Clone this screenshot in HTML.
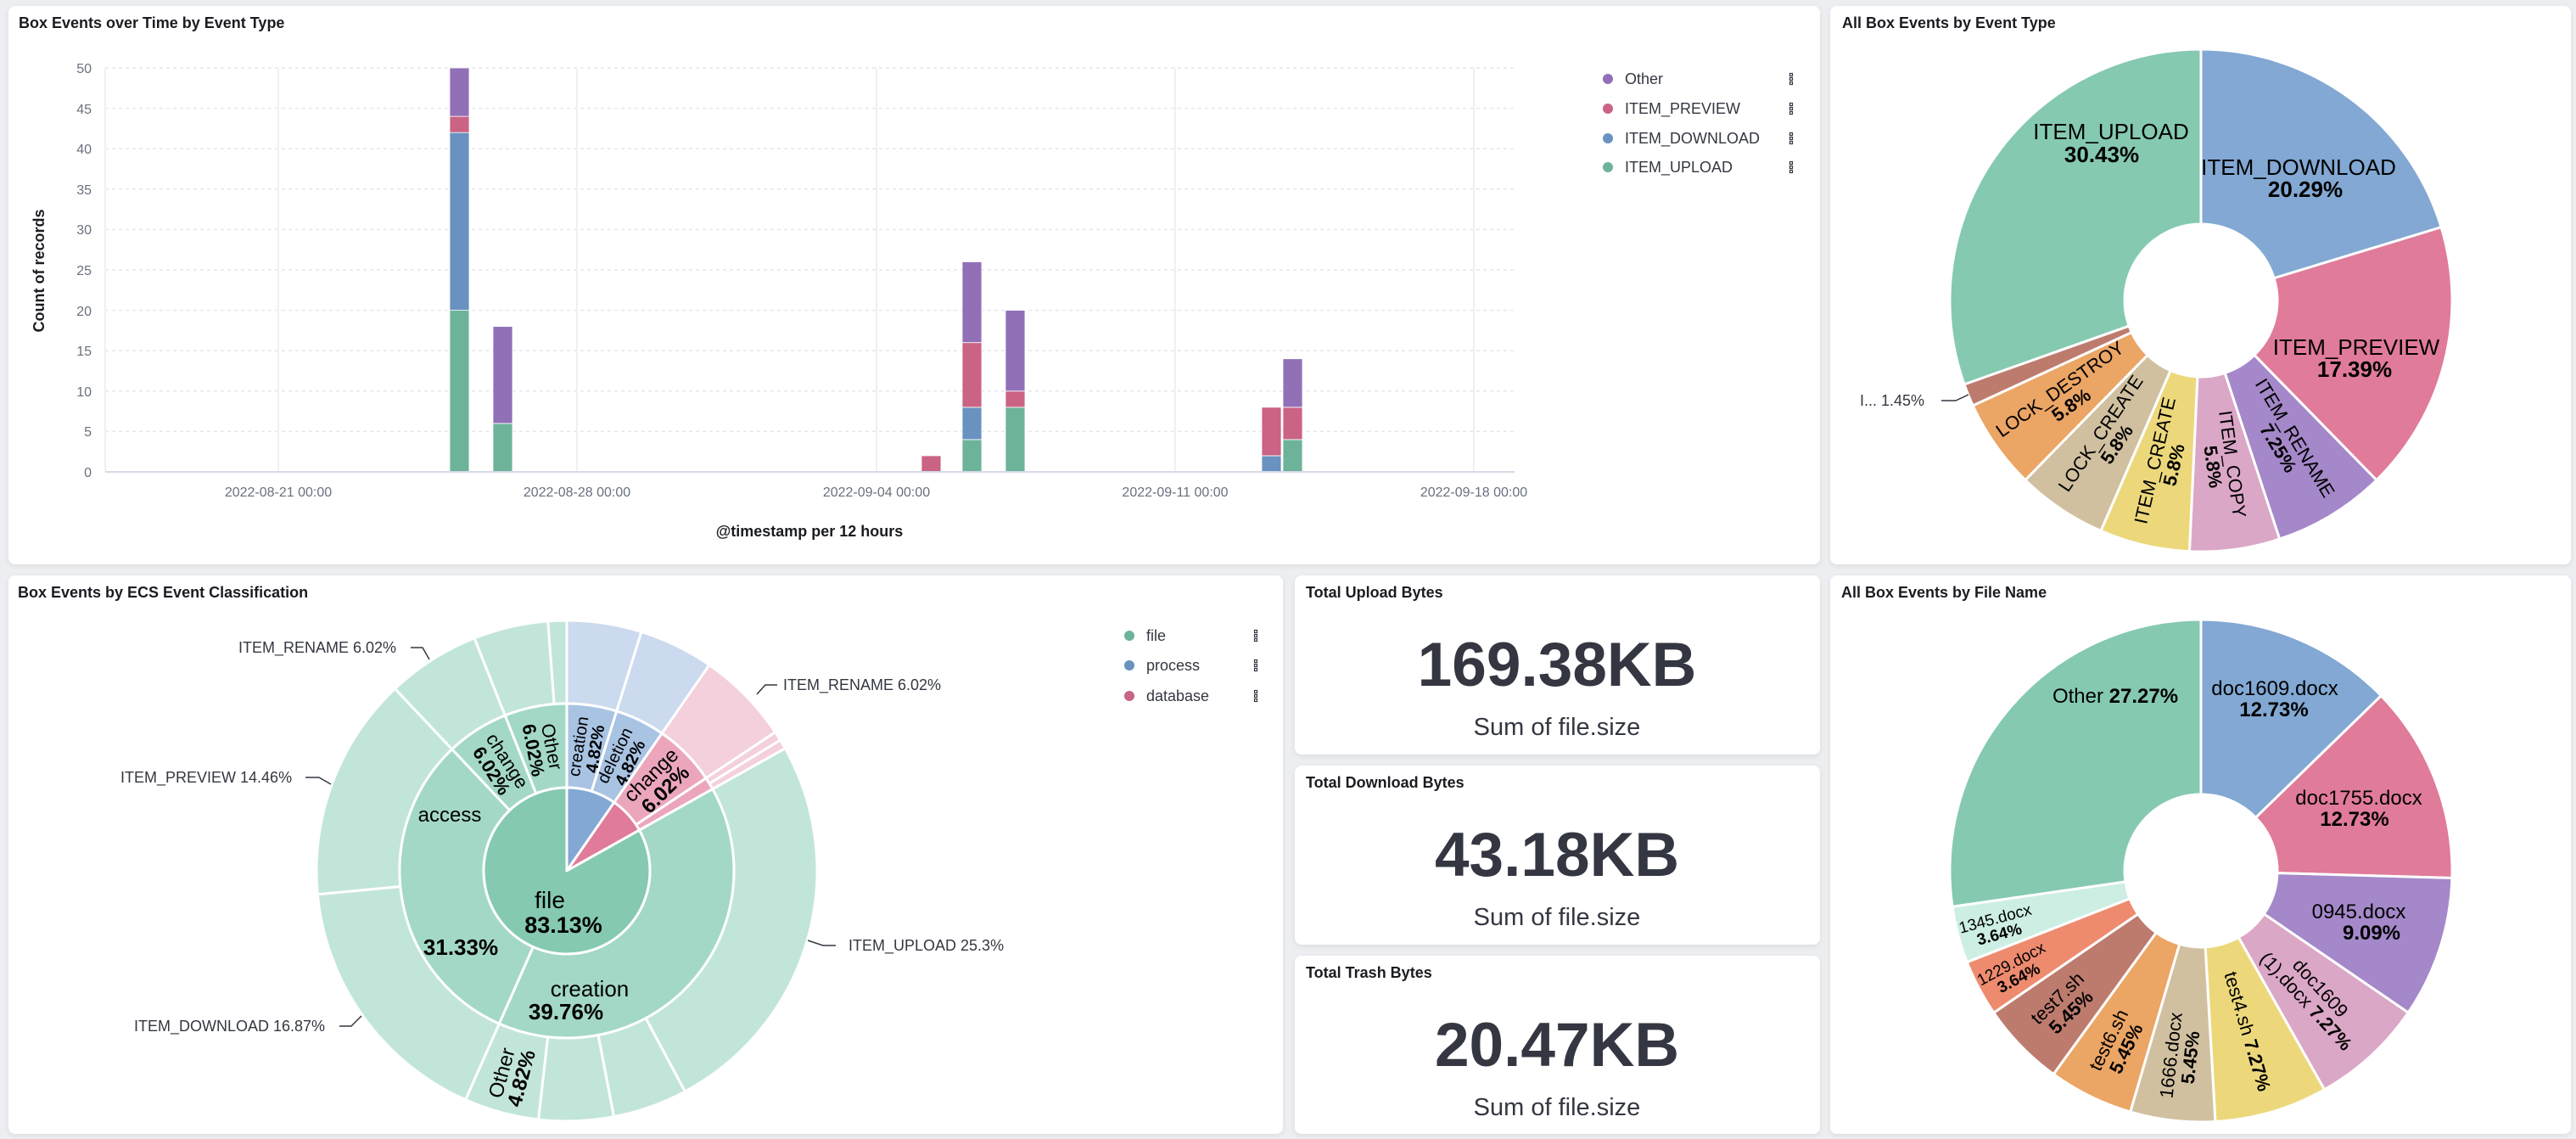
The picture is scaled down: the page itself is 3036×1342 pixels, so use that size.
<!DOCTYPE html>
<html><head><meta charset="utf-8">
<style>
html,body{margin:0;padding:0;background:#eceef1;}
svg{display:block;font-family:"Liberation Sans",Arial,sans-serif;}
.t{font-weight:bold;font-size:18px;fill:#1a1c21;}
.tk{font-size:16px;fill:#69707d;}
.lg{font-size:18px;fill:#343741;}
.co{font-size:18px;fill:#343741;}
.b{font-weight:bold;}
</style></head>
<body>
<svg id="s" width="3036" height="1342" viewBox="0 0 3036 1342" xmlns="http://www.w3.org/2000/svg">
<defs>
<filter id="sh" x="-5%" y="-5%" width="110%" height="115%"><feDropShadow dx="0" dy="2" stdDeviation="3" flood-color="#000" flood-opacity="0.08"/></filter>
</defs>
<rect width="3036" height="1342" fill="#eceef1"/>
<!-- panels -->
<g fill="#fff" filter="url(#sh)">
<rect x="10" y="7" width="2135" height="658" rx="8"/>
<rect x="2157" y="7" width="873" height="658" rx="8"/>
<rect x="10" y="678" width="1502" height="658" rx="8"/>
<rect x="1526" y="678" width="619" height="211" rx="8"/>
<rect x="1526" y="902" width="619" height="211" rx="8"/>
<rect x="1526" y="1126" width="619" height="210" rx="8"/>
<rect x="2157" y="678" width="873" height="658" rx="8"/>
</g>
<!-- titles -->
<text class="t" x="22" y="33">Box Events over Time by Event Type</text>
<text class="t" x="2171" y="33">All Box Events by Event Type</text>
<text class="t" x="21" y="704">Box Events by ECS Event Classification</text>
<text class="t" x="1539" y="704">Total Upload Bytes</text>
<text class="t" x="1539" y="928">Total Download Bytes</text>
<text class="t" x="1539" y="1152">Total Trash Bytes</text>
<text class="t" x="2170" y="704">All Box Events by File Name</text>

<!-- bar chart -->
<g id="grid"></g>
<g stroke="#eef0f3" stroke-width="2">
<line x1="328" y1="80" x2="328" y2="556"/><line x1="680" y1="80" x2="680" y2="556"/><line x1="1033" y1="80" x2="1033" y2="556"/><line x1="1385" y1="80" x2="1385" y2="556"/><line x1="1737" y1="80" x2="1737" y2="556"/>
<line x1="124" y1="80" x2="124" y2="556"/>
</g>
<g id="bars"></g>
<line x1="124" y1="556" x2="1785" y2="556" stroke="#d3dae6" stroke-width="2"/>
<g class="tk" text-anchor="end">
<text x="108" y="86">50</text><text x="108" y="134">45</text><text x="108" y="181">40</text><text x="108" y="229">35</text><text x="108" y="276">30</text><text x="108" y="324">25</text><text x="108" y="372">20</text><text x="108" y="419">15</text><text x="108" y="467">10</text><text x="108" y="514">5</text><text x="108" y="562">0</text>
</g>
<g class="tk" text-anchor="middle">
<text x="328" y="585">2022-08-21 00:00</text><text x="680" y="585">2022-08-28 00:00</text><text x="1033" y="585">2022-09-04 00:00</text><text x="1385" y="585">2022-09-11 00:00</text><text x="1737" y="585">2022-09-18 00:00</text>
</g>
<text class="t" x="954" y="632" text-anchor="middle" fill="#343741">@timestamp per 12 hours</text>
<text class="t" transform="translate(52,319) rotate(-90)" text-anchor="middle" fill="#343741">Count of records</text>
<g>
<circle cx="1895" cy="93" r="6" fill="#9170b8"/><circle cx="1895" cy="128" r="6" fill="#ca6384"/><circle cx="1895" cy="163" r="6" fill="#6a92c0"/><circle cx="1895" cy="197" r="6" fill="#6db39a"/>
<text class="lg" x="1915" y="99">Other</text><text class="lg" x="1915" y="134">ITEM_PREVIEW</text><text class="lg" x="1915" y="169">ITEM_DOWNLOAD</text><text class="lg" x="1915" y="203">ITEM_UPLOAD</text>
</g>
<g id="menus" fill="none" stroke="#343741" stroke-width="1.2"></g>

<!-- donut 1 -->
<g id="d1"></g>
<g id="d1l" transform="translate(2594,354)" font-size="26" fill="#000" text-anchor="middle">
<text x="-106" y="-190">ITEM_UPLOAD</text><text class="b" x="-117" y="-163">30.43%</text>
<text x="115" y="-148">ITEM_DOWNLOAD</text><text class="b" x="123" y="-122">20.29%</text>
<text x="183" y="64">ITEM_PREVIEW</text><text class="b" x="181" y="90">17.39%</text>
<g font-size="22">
<text class="pl" pa="148.7" pr="196"><tspan x="0" y="-3">ITEM_RENAME</tspan><tspan x="0" y="20" class="b">7.25%</tspan></text>
<text class="pl" pa="172.2" pr="196"><tspan x="0" y="-3">ITEM_COPY</tspan><tspan x="0" y="20" class="b">5.8%</tspan></text>
<text class="pl" pa="193" pr="196"><tspan x="0" y="-3">ITEM_CREATE</tspan><tspan x="0" y="20" class="b">5.8%</tspan></text>
<text class="pl" pa="214" pr="196"><tspan x="0" y="-3">LOCK_CREATE</tspan><tspan x="0" y="20" class="b">5.8%</tspan></text>
<text class="pl" pa="234.8" pr="196"><tspan x="0" y="-3">LOCK_DESTROY</tspan><tspan x="0" y="20" class="b">5.8%</tspan></text>
</g>
</g>
<text class="co" x="2192" y="478">I...  1.45%</text>
<polyline points="2288,472 2305,472 2320,465" fill="none" stroke="#343741" stroke-width="1.5"/>

<!-- sunburst -->
<g id="sb"></g>
<g transform="translate(668,1026)" fill="#000" text-anchor="middle">
<text x="-20" y="44" font-size="28">file</text><text class="b" x="-4" y="73" font-size="27">83.13%</text>
<text x="-138" y="-58" font-size="24">access</text><text class="b" x="-125" y="99" font-size="26">31.33%</text>
<text x="27" y="148" font-size="26">creation</text><text class="b" x="-1" y="175" font-size="26">39.76%</text>
<g font-size="20">
<text class="pl" pa="8.7" pr="147" pc="1"><tspan x="0" y="-2">creation</tspan><tspan x="0" y="18" class="b">4.82%</tspan></text>
<text class="pl" pa="26" pr="147"><tspan x="0" y="-2">deletion</tspan><tspan x="0" y="18" class="b">4.82%</tspan></text>
<text class="pl" pa="45.5" pr="150" font-size="24"><tspan x="0" y="-3">change</tspan><tspan x="0" y="21" class="b">6.02%</tspan></text>
<text class="pl" pa="327.5" pr="147" font-size="22"><tspan x="0" y="-3">change</tspan><tspan x="0" y="19" class="b">6.02%</tspan></text>
<text class="pl" pa="349" pr="147" font-size="22"><tspan x="0" y="-3">Other</tspan><tspan x="0" y="19" class="b">6.02%</tspan></text>
<text class="pl" pa="195.3" pr="250" font-size="24"><tspan x="0" y="-3">Other</tspan><tspan x="0" y="21" class="b">4.82%</tspan></text>
</g>
</g>
<g class="co">
<text x="281" y="769">ITEM_RENAME  6.02%</text>
<text x="142" y="922">ITEM_PREVIEW  14.46%</text>
<text x="158" y="1215">ITEM_DOWNLOAD  16.87%</text>
<text x="923" y="813">ITEM_RENAME  6.02%</text>
<text x="1000" y="1120">ITEM_UPLOAD  25.3%</text>
</g>
<g fill="none" stroke="#343741" stroke-width="1.5">
<polyline points="484,763 498,763 506,777"/>
<polyline points="360,916 376,916 390,924"/>
<polyline points="400,1209 414,1209 426,1197"/>
<polyline points="916,807 902,807 892,818"/>
<polyline points="985,1114 970,1114 952,1108"/>
</g>
<g>
<circle cx="1331" cy="749" r="6" fill="#6db39a"/><circle cx="1331" cy="784" r="6" fill="#6a92c0"/><circle cx="1331" cy="820" r="6" fill="#ca6384"/>
<text class="lg" x="1351" y="755">file</text><text class="lg" x="1351" y="790">process</text><text class="lg" x="1351" y="826">database</text>
</g>

<!-- stats -->
<g fill="#343741" text-anchor="middle">
<text x="1835" y="808" font-size="73" font-weight="bold">169.38KB</text>
<text x="1835" y="866" font-size="29">Sum of file.size</text>
<text x="1835" y="1032" font-size="73" font-weight="bold">43.18KB</text>
<text x="1835" y="1090" font-size="29">Sum of file.size</text>
<text x="1835" y="1256" font-size="73" font-weight="bold">20.47KB</text>
<text x="1835" y="1314" font-size="29">Sum of file.size</text>
</g>

<!-- donut 2 -->
<g id="d2"></g>
<g transform="translate(2594,1026)" font-size="24" fill="#000" text-anchor="middle">
<text x="-101" y="-198">Other <tspan class="b">27.27%</tspan></text>
<text x="87" y="-207">doc1609.docx</text><text class="b" x="86" y="-182">12.73%</text>
<text x="186" y="-78">doc1755.docx</text><text class="b" x="181" y="-53">12.73%</text>
<text x="186" y="56">0945.docx</text><text class="b" x="201" y="81">9.09%</text>
<g font-size="22">
<text class="pl" pa="137.5" pr="197"><tspan x="0" y="-3">doc1609</tspan><tspan x="0" y="20">(1).docx <tspan class="b">7.27%</tspan></tspan></text>
<text class="pl" pa="163.7" pr="197"><tspan x="0" y="8">test4.sh <tspan class="b">7.27%</tspan></tspan></text>
<text class="pl" pa="186.5" pr="220"><tspan x="0" y="-3">1666.docx</tspan><tspan x="0" y="20" class="b">5.45%</tspan></text>
<text class="pl" pa="206" pr="227"><tspan x="0" y="-3">test6.sh</tspan><tspan x="0" y="20" class="b">5.45%</tspan></text>
<text class="pl" pa="225.8" pr="226"><tspan x="0" y="-3">test7.sh</tspan><tspan x="0" y="20" class="b">5.45%</tspan></text>
</g>
<g font-size="19">
<text class="pl" pa="242" pr="249"><tspan x="0" y="-2">1229.docx</tspan><tspan x="0" y="17" class="b">3.64%</tspan></text>
<text class="pl" pa="255" pr="249"><tspan x="0" y="-2">1345.docx</tspan><tspan x="0" y="17" class="b">3.64%</tspan></text>
</g>
</g>
</svg>
<script>
(function(){
var NS="http://www.w3.org/2000/svg";
function el(t,a,p){var e=document.createElementNS(NS,t);for(var k in a)e.setAttribute(k,a[k]);p.appendChild(e);return e;}
function P(cx,cy,r,a){a=a*Math.PI/180;return [cx+r*Math.sin(a),cy-r*Math.cos(a)];}
function arc(g,cx,cy,r0,r1,a0,a1,fill){
 var lg=(a1-a0)>180?1:0,p1=P(cx,cy,r1,a0),p2=P(cx,cy,r1,a1),d;
 if(r0<=0){d="M"+cx+","+cy+"L"+p1+"A"+r1+","+r1+" 0 "+lg+" 1 "+p2+"Z";}
 else{var p3=P(cx,cy,r0,a1),p4=P(cx,cy,r0,a0);
 d="M"+p1+"A"+r1+","+r1+" 0 "+lg+" 1 "+p2+"L"+p3+"A"+r0+","+r0+" 0 "+lg+" 0 "+p4+"Z";}
 el("path",{d:d,fill:fill,stroke:"#fff","stroke-width":3,"stroke-linejoin":"round"},g);
}
function ring(g,cx,cy,r0,r1,list){var a=0;list.forEach(function(s){var b=a+s[0]*3.6;arc(g,cx,cy,r0,r1,a,b,s[1]);a=b;});}
// bars
var bars=document.getElementById("bars"),grid=document.getElementById("grid");
for(var i=1;i<=10;i++){var y=556-i*5*9.52;el("line",{x1:124,x2:1785,y1:y,y2:y,stroke:"#e4e7ec","stroke-width":1.5,"stroke-dasharray":"4,4"},grid);}
var C={u:"#6db39a",d:"#6a92c0",p:"#ca6384",o:"#9170b8"};
var B=[[530,[["u",20],["d",22],["p",2],["o",6]]],[581,[["u",6],["o",12]]],[1086,[["p",2]]],[1134,[["u",4],["d",4],["p",8],["o",10]]],[1185,[["u",8],["p",2],["o",10]]],[1487,[["d",2],["p",6]]],[1512,[["u",4],["p",4],["o",6]]]];
B.forEach(function(b){var v=0;b[1].forEach(function(s){var y1=556-v*9.52,y2=556-(v+s[1])*9.52;el("rect",{x:b[0],y:y2,width:23,height:y1-y2,fill:C[s[0]],stroke:"#fff","stroke-width":0.8},bars);v+=s[1];});});
// menus
var m=document.getElementById("menus");
[[2111,93],[2111,128],[2111,163],[2111,197],[1480,749],[1480,784],[1480,820]].forEach(function(p){for(var k=-1;k<=1;k++)el("rect",{x:p[0]-1.5,y:p[1]+k*5-1.5,width:3,height:3},m);});
// donut1
ring(document.getElementById("d1"),2594,354,90,296,[[20.29,"#82a8d3"],[17.39,"#e07b9a"],[7.25,"#a488c9"],[5.8,"#dba7c6"],[5.8,"#ecd87b"],[5.8,"#d0c0a0"],[5.8,"#eba565"],[1.45,"#bd7b6e"],[30.42,"#85c9b1"]]);
// donut2
ring(document.getElementById("d2"),2594,1026,90,296,[[12.73,"#82a8d3"],[12.73,"#e07b9a"],[9.09,"#a488c9"],[7.27,"#dba7c6"],[7.27,"#ecd87b"],[5.45,"#d0c0a0"],[5.45,"#eba565"],[5.45,"#bd7b6e"],[3.64,"#ee8b6f"],[3.64,"#cdeee3"],[27.28,"#85c9b1"]]);
// sunburst
var sb=document.getElementById("sb");
var G1="#c2e5da",G2="#a3d8c6",B1="#cbdaee",B2="#a9c3e3",R1="#f4d0dc",R2="#eba6bc";
ring(sb,668,1026,197,295,[[4.82,B1],[4.82,B1],[6.02,R1],[0.6,R1],[0.61,R1],[25.3,G1],[4.82,G1],[4.82,G1],[4.82,G1],[16.87,G1],[14.46,G1],[6.02,G1],[4.82,G1],[1.2,G1]]);
ring(sb,668,1026,98,197,[[4.82,B2],[4.82,B2],[6.02,R2],[1.21,R2],[39.76,G2],[31.33,G2],[6.02,G2],[6.02,G2]]);
ring(sb,668,1026,0,98,[[9.64,"#82a8d3"],[7.23,"#e07b9a"],[83.13,"#85c9b1"]]);
// polar labels
Array.prototype.forEach.call(document.querySelectorAll(".pl"),function(t){
 var a=parseFloat(t.getAttribute("pa")),r=parseFloat(t.getAttribute("pr"));
 var p=P(0,0,r,a),rot=a<180?a-90:a-270;
 t.setAttribute("transform","translate("+p[0].toFixed(1)+","+p[1].toFixed(1)+") rotate("+rot.toFixed(1)+")");
});
})();
</script>
</body></html>
